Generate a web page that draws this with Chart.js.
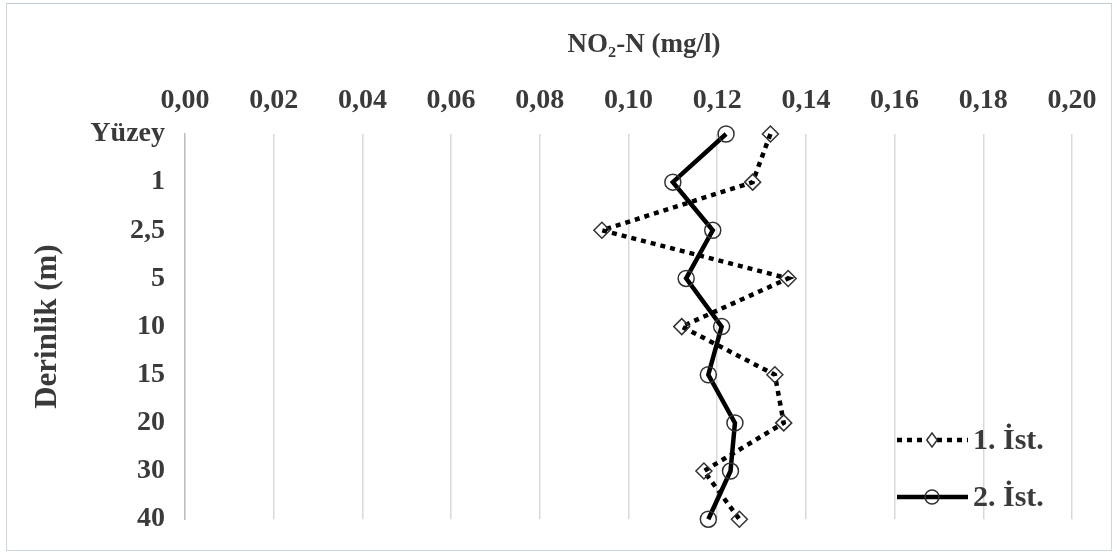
<!DOCTYPE html>
<html>
<head>
<meta charset="utf-8">
<script src="https://cdn.jsdelivr.net/npm/chart.js@4.4.1/dist/chart.umd.min.js"></script>
<style>
  html, body { margin: 0; padding: 0; background: #ffffff; }
  #wrap { position: relative; width: 1117px; height: 556px; }
  #frame { position: absolute; left: 6px; top: 3px; width: 1104px; height: 546px;
           border: 1.5px solid #c9d6e3; border-top-color: #b9cde3; pointer-events: none; }
  canvas { display: block; }
</style>
</head>
<body>
<div id="wrap">
  <canvas id="c" width="1117" height="556"></canvas>
  <div id="frame"></div>
</div>
<script>
// ---- data ----
const depthLabels = ['Yüzey', '1', '2,5', '5', '10', '15', '20', '30', '40'];
const station1 = [0.132, 0.128, 0.094, 0.136, 0.112, 0.133, 0.135, 0.117, 0.125];
const station2 = [0.122, 0.110, 0.119, 0.113, 0.121, 0.118, 0.124, 0.123, 0.118];
const seriesNames = ['1. İst.', '2. İst.'];
const xTickLabels = ['0,00', '0,02', '0,04', '0,06', '0,08', '0,10', '0,12', '0,14', '0,16', '0,18', '0,20'];
const xTitle = 'NO₂-N (mg/l)';
const yTitle = 'Derinlik (m)';

const textColor = '#3a3a3a';
const fontFamily = "'Liberation Serif', 'Times New Roman', serif";

const legendPlugin = {
  id: 'insideLegend',
  afterDraw(chart) {
    const ctx = chart.ctx;
    const items = [
      { ds: chart.data.datasets[1], y: 440 },
      { ds: chart.data.datasets[0], y: 497 }
    ];
    const x0 = 897, x1 = 968, xm = 932;
    items.forEach(it => {
      const ds = it.ds;
      ctx.save();
      ctx.strokeStyle = ds.borderColor;
      ctx.lineWidth = ds.borderWidth;
      ctx.lineCap = 'butt';
      ctx.setLineDash(ds.borderDash || []);
      ctx.beginPath();
      ctx.moveTo(x0, it.y);
      ctx.lineTo(x1, it.y);
      ctx.stroke();
      ctx.setLineDash([]);
      // marker
      ctx.fillStyle = '#ffffff';
      ctx.strokeStyle = ds.pointBorderColor;
      ctx.lineWidth = ds.pointBorderWidth;
      const r = 7;
      ctx.beginPath();
      if (ds.pointStyle === 'rectRot') {
        ctx.moveTo(xm, it.y - r);
        ctx.lineTo(xm + r * 0.75, it.y);
        ctx.lineTo(xm, it.y + r);
        ctx.lineTo(xm - r * 0.75, it.y);
        ctx.closePath();
        ctx.fill();
      } else {
        ctx.arc(xm, it.y, r, 0, Math.PI * 2);
      }
      ctx.stroke();
      // text
      ctx.fillStyle = textColor;
      ctx.font = "bold 30px " + fontFamily;
      ctx.textBaseline = 'middle';
      ctx.textAlign = 'left';
      ctx.fillText(ds.label, 973, it.y + 1);
      ctx.restore();
    });
  }
};

// x-axis title drawn above the tick labels (offset to the right as in the original)
const axisTitlePlugin = {
  id: 'xAxisTitle',
  afterDraw(chart) {
    const ctx = chart.ctx;
    ctx.save();
    ctx.fillStyle = textColor;
    ctx.font = "bold 27px " + fontFamily;
    ctx.textAlign = 'center';
    ctx.textBaseline = 'middle';
    ctx.fillText(xTitle, 644, 45);
    ctx.restore();
  }
};

new Chart(document.getElementById('c'), {
  type: 'line',
  data: {
    labels: depthLabels,
    datasets: [
      {
        label: seriesNames[1],
        data: station2,
        borderColor: '#000000',
        borderWidth: 4.5,
        pointStyle: 'circle',
        pointRadius: 8,
        pointBorderWidth: 1.5,
        pointBorderColor: '#333333',
        pointBackgroundColor: 'rgba(255,255,255,0)',
        tension: 0,
        order: 0
      },
      {
        label: seriesNames[0],
        data: station1,
        borderColor: '#000000',
        borderWidth: 4.5,
        borderDash: [5, 5],
        borderCapStyle: 'butt',
        pointStyle: 'rectRot',
        pointRadius: 8,
        pointBorderWidth: 1.5,
        pointBorderColor: '#333333',
        pointBackgroundColor: 'rgba(255,255,255,0)',
        tension: 0,
        order: 1
      }
    ]
  },
  options: {
    indexAxis: 'y',
    responsive: false,
    animation: false,
    layout: { padding: { top: 0, left: 0, right: 45, bottom: 36 } },
    plugins: {
      legend: { display: false },
      tooltip: { enabled: false }
    },
    scales: {
      x: {
        type: 'linear',
        position: 'top',
        min: 0,
        max: 0.2,
        afterFit(scale) { scale.height = 134; },
        afterBuildTicks(scale) {
          scale.ticks = xTickLabels.map((t, i) => ({ value: i * 0.02 }));
        },
        ticks: {
          callback: (v, i) => xTickLabels[i],
          color: textColor,
          font: { family: fontFamily, size: 28, weight: 'bold' },
          padding: 16,
          maxRotation: 0,
          autoSkip: false
        },
        grid: { color: '#d9d9d9', lineWidth: 1.5, drawTicks: false },
        border: { display: false },
        title: { display: false, text: xTitle }
      },
      y: {
        type: 'category',
        offset: false,
        afterFit(scale) { scale.width = 185; },
        ticks: {
          color: textColor,
          font: { family: fontFamily, size: 28, weight: 'bold' },
          padding: 20
        },
        grid: { display: false, drawTicks: false },
        border: { display: true, color: '#bfbfbf', width: 1.5 },
        title: {
          display: true,
          text: yTitle,
          color: textColor,
          font: { family: fontFamily, size: 31, weight: 'bold' },
          padding: { top: 29, bottom: 0 }
        }
      }
    }
  },
  plugins: [legendPlugin, axisTitlePlugin]
});
</script>
</body>
</html>
